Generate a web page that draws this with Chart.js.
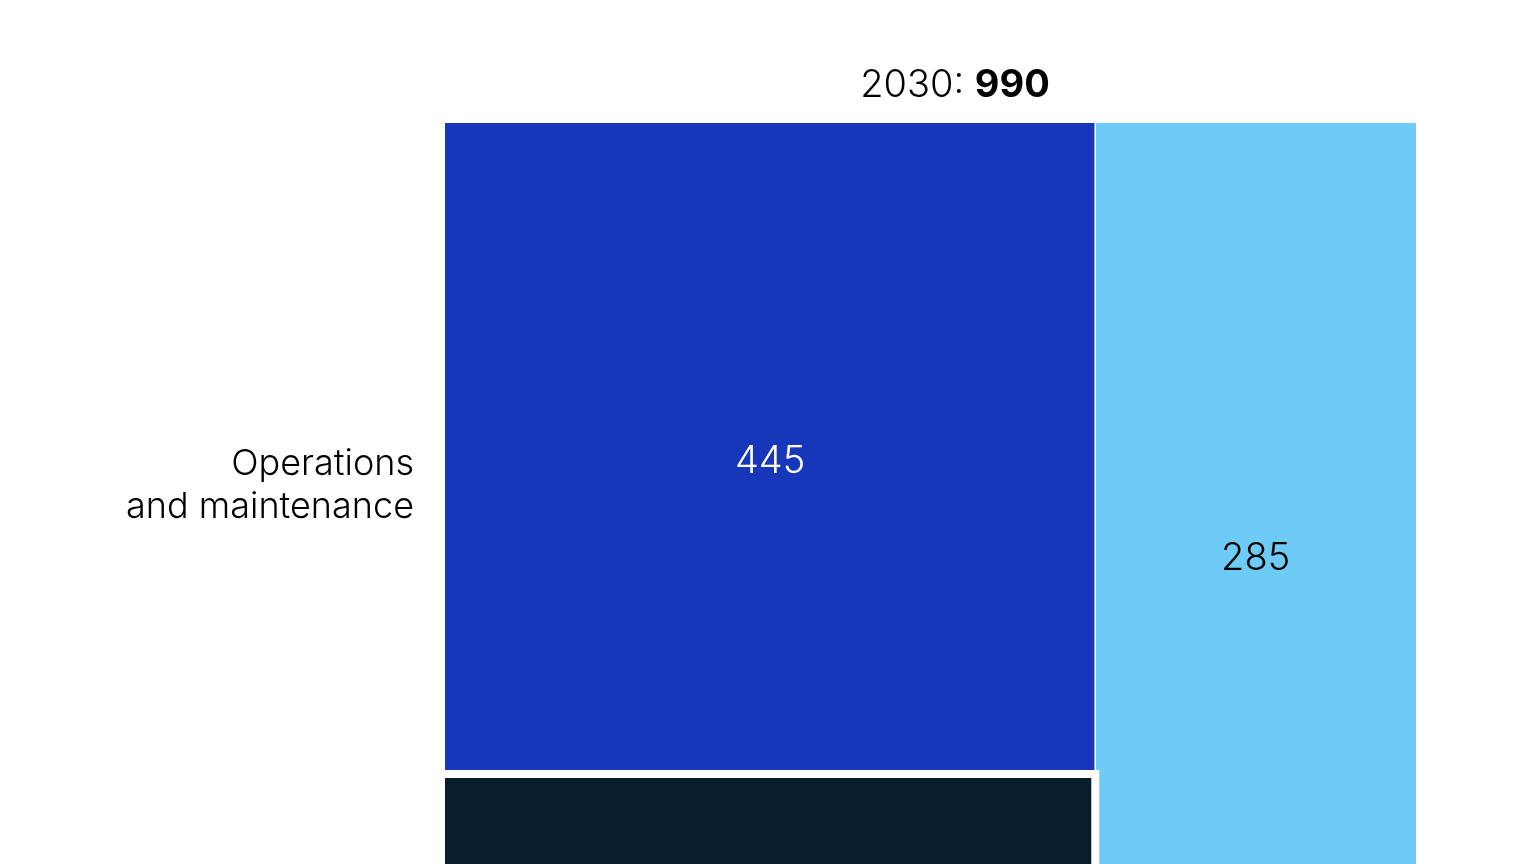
<!DOCTYPE html>
<html>
<head>
<meta charset="utf-8">
<title>2030: 990</title>
<script src="https://cdn.jsdelivr.net/npm/chart.js@4.4.1/dist/chart.umd.min.js"></script>
<style>
    html, body { margin: 0; padding: 0; background: #fff; overflow: hidden; }
    #wrap { width: 1536px; height: 864px; overflow: hidden; }
    canvas { display: block; }
</style>
</head>
<body>
<div id="wrap"><canvas id="treeChart" width="1536" height="1100" style="width:1536px;height:1100px"></canvas></div>
<script>
// Data (lower blocks are cut off by the frame)
const year = '2030';
const total = 990;
const blockNames = [['Operations', 'and maintenance'], [], [], []];
const blockValues = [445, 218, 285, 42];
const blockColumns = [0, 0, 1, 1];

const blockColors = ['#1737BA', '#081C2C', '#6ECBF5', '#2251FF'];
const labelColors = ['#ffffff', '#ffffff', '#000000', '#ffffff'];
const FONT = 'Inter, "Liberation Sans", sans-serif';

// Slice-and-dice layout: column width ~ column sum, block height ~ share of column
const colSums = [];
blockValues.forEach((v, i) => { colSums[blockColumns[i]] = (colSums[blockColumns[i]] || 0) + v; });
const colStart = [];
let acc = 0;
colSums.forEach((s, c) => { colStart[c] = acc; acc += s; });

const blocks = [];
const colFill = colSums.map(() => 0);
blockValues.forEach((v, i) => {
    const c = blockColumns[i];
    const y0 = colFill[c] / colSums[c] * 100;
    colFill[c] += v;
    const y1 = colFill[c] / colSums[c] * 100;
    blocks.push({ x0: colStart[c], x1: colStart[c] + colSums[c], y0, y1, value: v, first: y0 === 0 });
});

const datasets = [];
blocks.forEach((b, i) => {
    datasets.push({
        data: [{ x: b.x0, y: b.y0 }, { x: b.x1, y: b.y0 }],
        fill: { value: b.y1 },
        backgroundColor: blockColors[i],
        borderColor: 'rgba(0,0,0,0)',
        borderWidth: 0,
        pointRadius: 0,
        order: 3
    });
});

// thin white line between columns
colStart.slice(1).forEach(x => {
    datasets.push({
        data: [{ x: x, y: 0 }, { x: x, y: 100 }],
        borderColor: '#ffffff',
        borderWidth: 1,
        pointRadius: 0,
        fill: false,
        order: 2
    });
});

// thick white gap around lower blocks
blocks.forEach(b => {
    if (b.first) return;
    const pts = [{ x: b.x0, y: b.y0 }, { x: b.x1, y: b.y0 }];
    if (b.x1 < total) pts.push({ x: b.x1, y: b.y1 });
    datasets.push({
        data: pts,
        borderColor: '#ffffff',
        borderWidth: 8,
        borderJoinStyle: 'miter',
        pointRadius: 0,
        fill: false,
        order: 1
    });
});

const textPlugin = {
    id: 'textPlugin',
    afterDatasetsDraw(chart) {
        const { ctx, scales: { x, y } } = chart;
        ctx.save();

        // title "2030: 990"
        const part1 = year + ': ';
        const part2 = String(total);
        ctx.textBaseline = 'alphabetic';
        ctx.textAlign = 'left';
        ctx.font = '300 38px ' + FONT;
        const w1 = ctx.measureText(part1).width;
        ctx.font = '700 38px ' + FONT;
        const w2 = ctx.measureText(part2).width;
        const tx = 955 - (w1 + w2) / 2;
        ctx.fillStyle = '#000';
        ctx.font = '300 38px ' + FONT;
        ctx.fillText(part1, tx, 97);
        ctx.font = '700 38px ' + FONT;
        ctx.fillText(part2, tx + w1, 97);

        blocks.forEach((b, i) => {
            const cx = x.getPixelForValue((b.x0 + b.x1) / 2);
            const cy = y.getPixelForValue((b.y0 + b.y1) / 2);
            ctx.font = '300 38px ' + FONT;
            ctx.textAlign = 'center';
            ctx.textBaseline = 'alphabetic';
            ctx.fillStyle = labelColors[i];
            ctx.fillText(String(b.value), cx, cy + 24);

            // category name left of the first column
            if (b.x0 === 0 && blockNames[i].length) {
                ctx.font = '300 36px ' + FONT;
                ctx.textAlign = 'right';
                ctx.fillStyle = '#000';
                blockNames[i].forEach((line, k) => {
                    ctx.fillText(line, x.getPixelForValue(0) - 31, cy + 26.5 + k * 43);
                });
            }
        });
        ctx.restore();
    }
};

new Chart(document.getElementById('treeChart'), {
    type: 'line',
    data: { datasets },
    options: {
        responsive: false,
        animation: false,
        layout: { padding: { left: 445, right: 120, top: 123, bottom: 7 } },
        plugins: { legend: { display: false }, tooltip: { enabled: false } },
        elements: { line: { tension: 0 } },
        scales: {
            x: { type: 'linear', display: false, min: 0, max: total },
            y: { type: 'linear', display: false, min: 0, max: 100, reverse: true }
        }
    },
    plugins: [textPlugin]
});
</script>
</body>
</html>
